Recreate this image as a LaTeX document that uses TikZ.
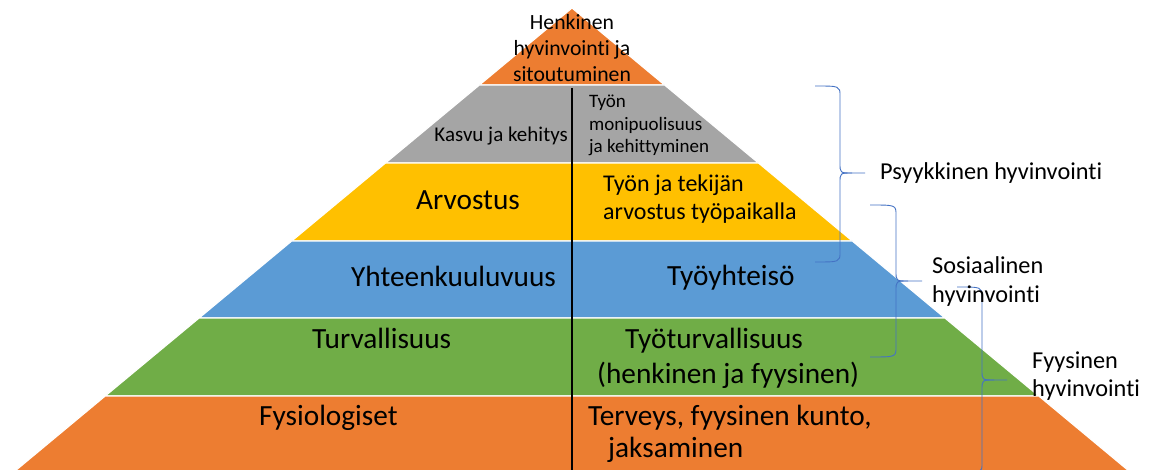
\documentclass[tikz,border=0pt]{standalone}
\usepackage{fontspec}
\setmainfont{Carlito}[Ligatures=NoCommon]
\definecolor{porange}{HTML}{ED7D31}
\definecolor{pgray}{HTML}{A5A5A5}
\definecolor{pyellow}{HTML}{FFC000}
\definecolor{pblue}{HTML}{5B9BD5}
\definecolor{pgreen}{HTML}{70AD47}
\definecolor{braceblue}{HTML}{4472C4}
\newcommand\fsz[1]{\fontsize{#1}{#1}\selectfont}
\tikzset{
  band/.style={draw=white, line width=1.2pt, line join=miter},
  lbl/.style={inner sep=0pt, anchor=base west, text=black},
  clbl/.style={inner sep=0pt, anchor=base, text=black},
  bracket/.style={draw=braceblue, line width=0.9pt},
  divider/.style={draw=black, line width=1.4pt}
}
\begin{document}
\begin{tikzpicture}[x=1pt,y=-1pt]
\useasboundingbox (0,0) rectangle (1151,470);
\clip (0,0) rectangle (1151,470);
\fill[white] (0,0) rectangle (1151,470);
% pyramid bands
\path[band, fill=porange] (572,8) -- (664.6,85) -- (479.4,85) -- cycle;
\path[band, fill=pgray] (479.4,85) -- (664.6,85) -- (758.5,163) -- (385.5,163) -- cycle;
\path[band, fill=pyellow] (385.5,163) -- (758.5,163) -- (852.3,241) -- (291.7,241) -- cycle;
\path[band, fill=pblue] (291.7,241) -- (852.3,241) -- (944.9,318) -- (199.1,318) -- cycle;
\path[band, fill=pgreen] (199.1,318) -- (944.9,318) -- (1038.8,396) -- (105.2,396) -- cycle;
\path[band, fill=porange] (105.2,396) -- (1038.8,396) -- (1139.8,480) -- (4.2,480) -- cycle;
% divider
\coordinate (dtop) at (572,88);
\coordinate (dbot) at (572,472);
\draw[divider] (dtop) -- (dbot);
% top
\node[clbl, font=\fsz{21.7}] (henk1) at (572,30) {Henkinen};
\node[clbl, font=\fsz{21.7}] (henk2) at (572,56) {hyvinvointi ja};
\node[clbl, font=\fsz{21.7}] (henk3) at (572,82) {sitoutuminen};
% gray
\node[lbl, anchor=base east, font=\fsz{21}] (kasvu) at (568,142) {Kasvu ja kehitys};
\node[lbl, font=\fsz{19}] (mon1) at (589,108) {Työn};
\node[lbl, font=\fsz{19}] (mon2) at (589,130.5) {monipuolisuus};
\node[lbl, font=\fsz{19}] (mon3) at (589,153) {ja kehittyminen};
% yellow
\node[lbl, font=\fsz{29.3}] (arv) at (416,210) {Arvostus};
\node[lbl, font=\fsz{24}] (tek1) at (603,192) {Työn ja tekijän};
\node[lbl, font=\fsz{24}] (tek2) at (603,220) {arvostus työpaikalla};
% blue
\node[lbl, font=\fsz{29.3}] (yht) at (351,287) {Yhteenkuuluvuus};
\node[lbl, font=\fsz{29.3}] (tyoy) at (667,286) {Työyhteisö};
% green
\node[lbl, font=\fsz{29.3}] (turv) at (312,348) {Turvallisuus};
\node[lbl, font=\fsz{29.3}] (tturv1) at (625,348) {Työturvallisuus};
\node[lbl, font=\fsz{29.3}] (tturv2) at (597,383) {(henkinen ja fyysinen)};
% orange
\node[lbl, font=\fsz{29.3}] (fys) at (259,425) {Fysiologiset};
\node[lbl, font=\fsz{29.3}] (terv1) at (588,425) {Terveys, fyysinen kunto,};
\node[lbl, font=\fsz{29.3}] (terv2) at (608,457) {jaksaminen};
% braces
\draw[bracket] (815,86) .. controls (840,86) .. (840,96) -- (840,163)
  .. controls (840,173) .. (852,173) -- (865,173);
\draw[bracket] (852,173) .. controls (840,173) .. (840,183) -- (840,252)
  .. controls (840,262) .. (815,262);
\draw[bracket] (870,205) .. controls (896,205) .. (896,215) -- (896,271)
  .. controls (896,281) .. (908,281) -- (922,281);
\draw[bracket] (908,281) .. controls (896,281) .. (896,291) -- (896,347)
  .. controls (896,357) .. (870,357);
\draw[bracket] (957,287) .. controls (982,287) .. (982,297) -- (982,370)
  .. controls (982,380) .. (994,380) -- (1007,380);
\draw[bracket] (994,380) .. controls (982,380) .. (982,390) -- (982,463)
  .. controls (982,473) .. (957,473);
% brace labels
\node[lbl, font=\fsz{24.3}] (psy) at (880,180) {Psyykkinen hyvinvointi};
\node[lbl, font=\fsz{24.3}] (sos1) at (932,274) {Sosiaalinen};
\node[lbl, font=\fsz{24.3}] (sos2) at (932,302.5) {hyvinvointi};
\node[lbl, font=\fsz{24.3}] (fyy1) at (1032,368) {Fyysinen};
\node[lbl, font=\fsz{24.3}] (fyy2) at (1032,396) {hyvinvointi};
\end{tikzpicture}
\end{document}
